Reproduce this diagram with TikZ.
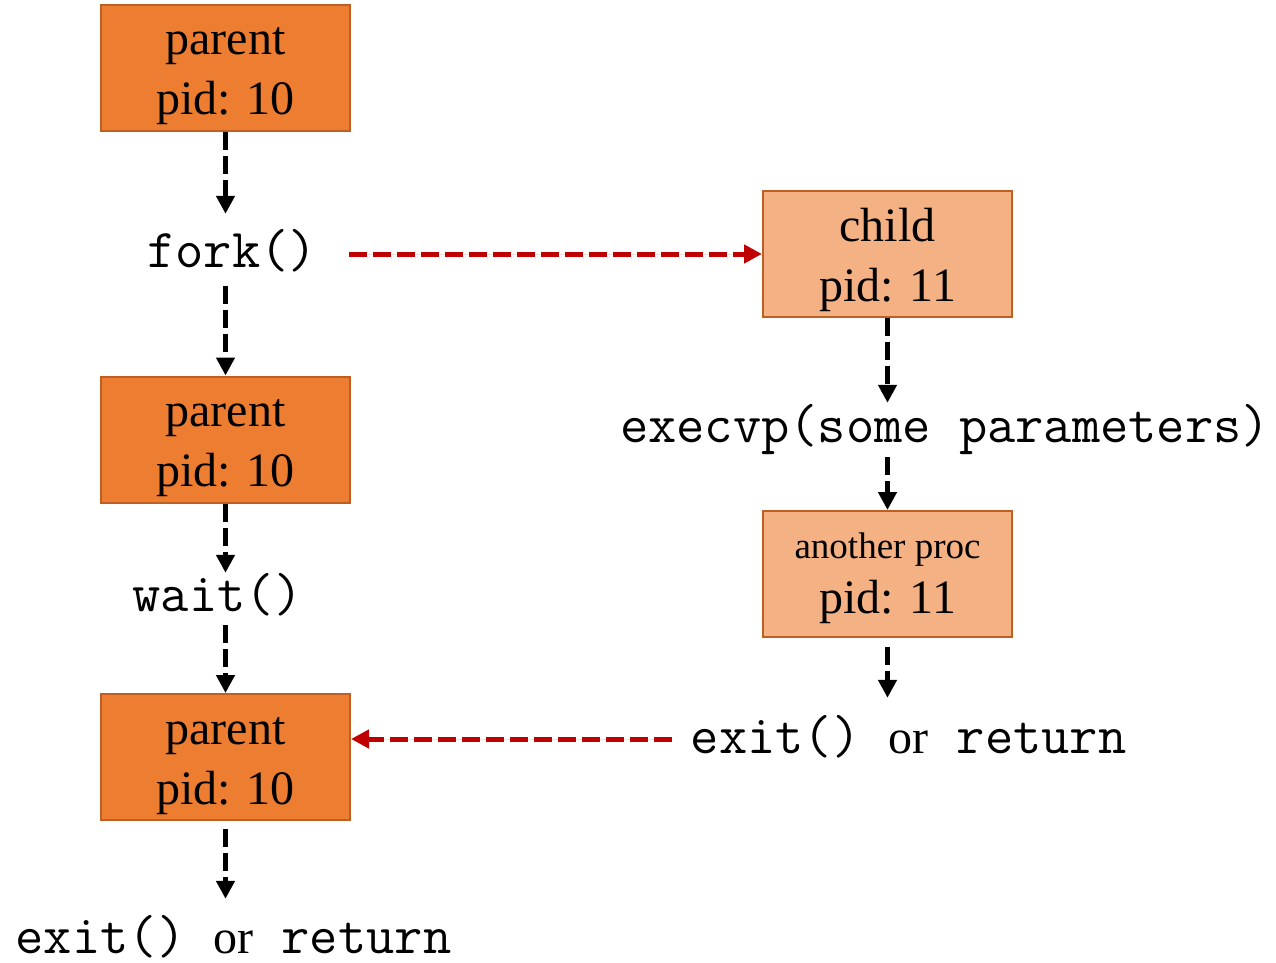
\documentclass[tikz,border=0pt]{standalone}
\usepackage{fontspec}
\setmainfont{Liberation Serif}
\usetikzlibrary{arrows.meta}

\definecolor{procdark}{HTML}{ED7D31}
\definecolor{proclight}{HTML}{F4B183}
\definecolor{procedge}{HTML}{BE5F24}
\definecolor{signal}{HTML}{C00000}

% Two centred lines inside a 249pt x 126pt process box.
% #1 first line, #2 second line, #3 font size of first line,
% #4 top edge to first baseline, #5 extra space to second baseline
\newcommand\proclabel[5]{%
  \vbox to 126pt{\offinterlineskip
    \hbox to 249pt{\hss\vrule width 0pt height #4 depth 15pt\fontsize{#3}{#3}\selectfont #1\hss}%
    \hbox to 249pt{\hss\vrule width 0pt height #5 depth 0pt\fontsize{48}{48}\selectfont #2\hss}%
    \vss}}

% serif word between two code fragments
\newcommand\orword{{\fontsize{48}{48}\selectfont\rmfamily or}}

\tikzset{
  proc/.style={draw=procedge, line width=2pt, inner sep=0pt, fill=procdark},
  childproc/.style={proc, fill=proclight},
  code/.style={inner sep=0pt, anchor=base, font=\fontsize{54.86}{54.86}\selectfont\ttfamily},
  flow/.style={line width=5.5pt, dash pattern=on 18pt off 6pt,
    -{Triangle[length=18pt,width=18pt]}},
  signalflow/.style={flow, draw=signal, fill=signal, line width=5pt},
}

\begin{document}
\begin{tikzpicture}[x=1pt, y=-1pt]
\useasboundingbox (0,0) rectangle (1276,963);

% parent process column
\node[proc] (p1) at (225.5,68) {\proclabel{parent}{pid: 10}{48}{50pt}{45pt}};
\node[code, text height=53pt, text depth=19pt] (fork) at (232,267) {fork()};
\node[proc] (p2) at (225.5,439.5) {\proclabel{parent}{pid: 10}{48}{50pt}{45pt}};
\node[code, text height=38pt, text depth=14pt] (wait) at (217.5,611) {wait()};
\node[proc] (p3) at (225.5,757) {\proclabel{parent}{pid: 10}{48}{50pt}{45pt}};
\node[code, text height=54pt, text depth=10pt] (end1) at (233.5,953) {exit() \orword{} return};

% child process column
\node[childproc] (c1) at (887.5,254) {\proclabel{child}{pid: 11}{48}{50pt}{45pt}};
\node[code, text height=39pt, text depth=15pt] (exec) at (945,442) {execvp(some parameters)};
\node[childproc] (c2) at (887.5,574) {\proclabel{another proc}{pid: 11}{37}{47pt}{40pt}};
\node[code, text height=55pt, text depth=10pt] (end2) at (908.5,753) {exit() \orword{} return};

% control flow
\draw[flow] (p1.south) -- (p1.south |- fork.north);
\draw[flow] (p1.south |- fork.south) -- (p2.north);
\draw[flow] (p2.south) -- (p2.south |- wait.north);
\draw[flow] (p2.south |- wait.south) -- (p3.north);
\draw[flow, shorten <=8pt] (p3.south) -- (p3.south |- end1.north);
\draw[flow] (c1.south) -- (c1.south |- exec.north);
\draw[flow] (c1.south |- exec.south) -- (c2.north);
\draw[flow, shorten <=9pt] (c2.south) -- (c2.south |- end2.north);

% fork creates the child, child exit wakes the parent
\coordinate (forkout) at ([shift={(32pt,13pt)}]fork.base east);
\draw[signalflow] (forkout) -- (forkout -| c1.west);
\coordinate (exitout) at ([shift={(-19pt,14pt)}]end2.base west);
\draw[signalflow] (exitout) -- (exitout -| p3.east);
\end{tikzpicture}
\end{document}
